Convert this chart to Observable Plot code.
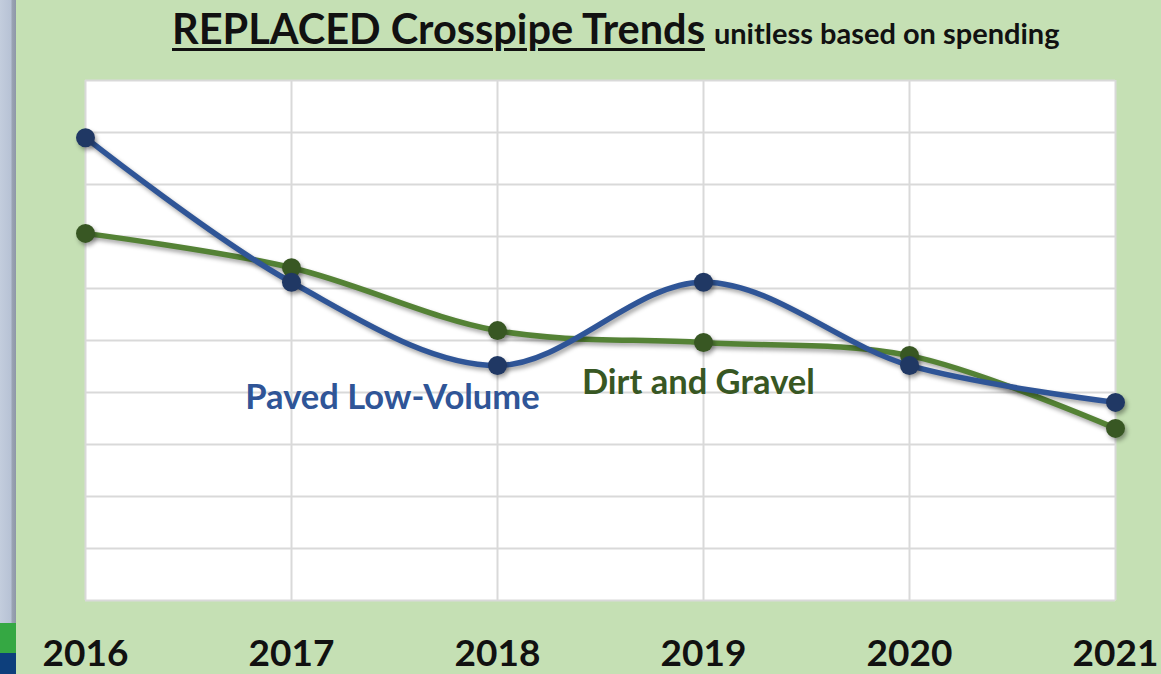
<!DOCTYPE html>
<html>
<head>
<meta charset="utf-8">
<script src="https://cdn.jsdelivr.net/npm/d3@7"></script>
<script src="https://cdn.jsdelivr.net/npm/@observablehq/plot@0.6"></script>
<style>
  html, body { margin: 0; padding: 0; }
  body { width: 1161px; height: 674px; overflow: hidden; background: #c5e0b4; font-family: Lato, "Open Sans", sans-serif; }
  #wrap { position: relative; width: 1161px; height: 674px; }
  #strip { position: absolute; left: 0; top: 0; width: 16px; height: 674px;
    background: linear-gradient(to right, #c3cddd 0px, #b7c2d5 11px, #9aa3b3 12px, #8e97a8 16px); }
  #strip .g { position: absolute; left: 0; width: 16px; top: 623px; height: 30px; background: #35a843; }
  #strip .b { position: absolute; left: 0; width: 16px; top: 653px; height: 21px; background: #0d3f7c; }
  #title { position: absolute; left: 172px; top: 3px; white-space: nowrap; color: #111; font-weight: 700; }
  #title .main { font-size: 41.5px; text-decoration: underline; text-decoration-thickness: 3px; text-underline-offset: 4px; }
  #title .sub { font-size: 29px; margin-left: 9px; }
  #chart { position: absolute; left: 0; top: 0; }
  #chart g[aria-label="line"] path { filter: drop-shadow(2px 3px 2px rgba(0,0,0,0.35)); }
  #chart g[aria-label="dot"] circle { filter: drop-shadow(2px 3px 2px rgba(0,0,0,0.35)); }
  #chart g[aria-label="frame"] rect { filter: drop-shadow(1px 2px 2px rgba(0,0,0,0.25)); }
</style>
</head>
<body>
<div id="wrap">
  <div id="strip"><div class="g"></div><div class="b"></div></div>
  <div id="chart"></div>
  <div id="title"><span class="main">REPLACED Crosspipe Trends</span><span class="sub">unitless based on spending</span></div>
</div>
<script>
const years = [2016, 2017, 2018, 2019, 2020, 2021];
const pavedLowVolume = [8.9, 6.12, 4.52, 6.12, 4.52, 3.81];
const dirtAndGravel = [7.06, 6.4, 5.19, 4.96, 4.71, 3.31];
const seriesNames = ["Paved Low-Volume", "Dirt and Gravel"];
const lineColors = ["#2f5597", "#548235"];
const dotColors = ["#203864", "#385723"];
const labelColors = ["#2f5597", "#385723"];
// label anchors in data coordinates (year, value)
const labelYears = [2017.49, 2018.975];
const labelValues = [3.9, 4.18];
const gridValues = [0,1,2,3,4,5,6,7,8,9,10];

const rows = [];
years.forEach((yr, i) => {
  rows.push({year: yr, value: pavedLowVolume[i], series: seriesNames[0]});
});
years.forEach((yr, i) => {
  rows.push({year: yr, value: dirtAndGravel[i], series: seriesNames[1]});
});
const labels = seriesNames.map((s, i) => ({series: s, year: labelYears[i], value: labelValues[i]}));

const lineColor = d3.scaleOrdinal(seriesNames, lineColors);
const dotColor = d3.scaleOrdinal(seriesNames, dotColors);
const labelColor = d3.scaleOrdinal(seriesNames, labelColors);

const chart = Plot.plot({
  width: 1161,
  height: 674,
  marginTop: 80,
  marginBottom: 74,
  marginLeft: 85,
  marginRight: 46,
  style: {background: "transparent", fontFamily: "Lato, 'Open Sans', sans-serif", overflow: "visible"},
  x: {domain: [2016, 2021], label: null},
  y: {domain: [0, 10], axis: null},
  marks: [
    Plot.frame({fill: "white", stroke: "none"}),
    Plot.gridY(gridValues, {stroke: "#d9d9d9", strokeOpacity: 1, strokeWidth: 2}),
    Plot.gridX(years, {stroke: "#d9d9d9", strokeOpacity: 1, strokeWidth: 2}),
    Plot.axisX(years, {label: null, tickSize: 0, tickPadding: 39, fontSize: 37, fontWeight: "bold", fill: "#111", tickFormat: d => String(d)}),
    Plot.line(rows.filter(d => d.series === seriesNames[1]), {x: "year", y: "value", stroke: lineColor(seriesNames[1]), strokeWidth: 5.5, curve: "catmull-rom"}),
    Plot.line(rows.filter(d => d.series === seriesNames[0]), {x: "year", y: "value", stroke: lineColor(seriesNames[0]), strokeWidth: 5.5, curve: "catmull-rom"}),
    Plot.dot(rows.filter(d => d.series === seriesNames[1]), {x: "year", y: "value", r: 9.5, fill: dotColor(seriesNames[1]), stroke: "none"}),
    Plot.dot(rows.filter(d => d.series === seriesNames[0]), {x: "year", y: "value", r: 9.5, fill: dotColor(seriesNames[0]), stroke: "none"}),
    Plot.text(labels, {x: "year", y: "value", text: "series", fill: d => labelColor(d.series), fontSize: 34.5, fontWeight: "bold"})
  ]
});
document.getElementById("chart").appendChild(chart);
</script>
</body>
</html>
